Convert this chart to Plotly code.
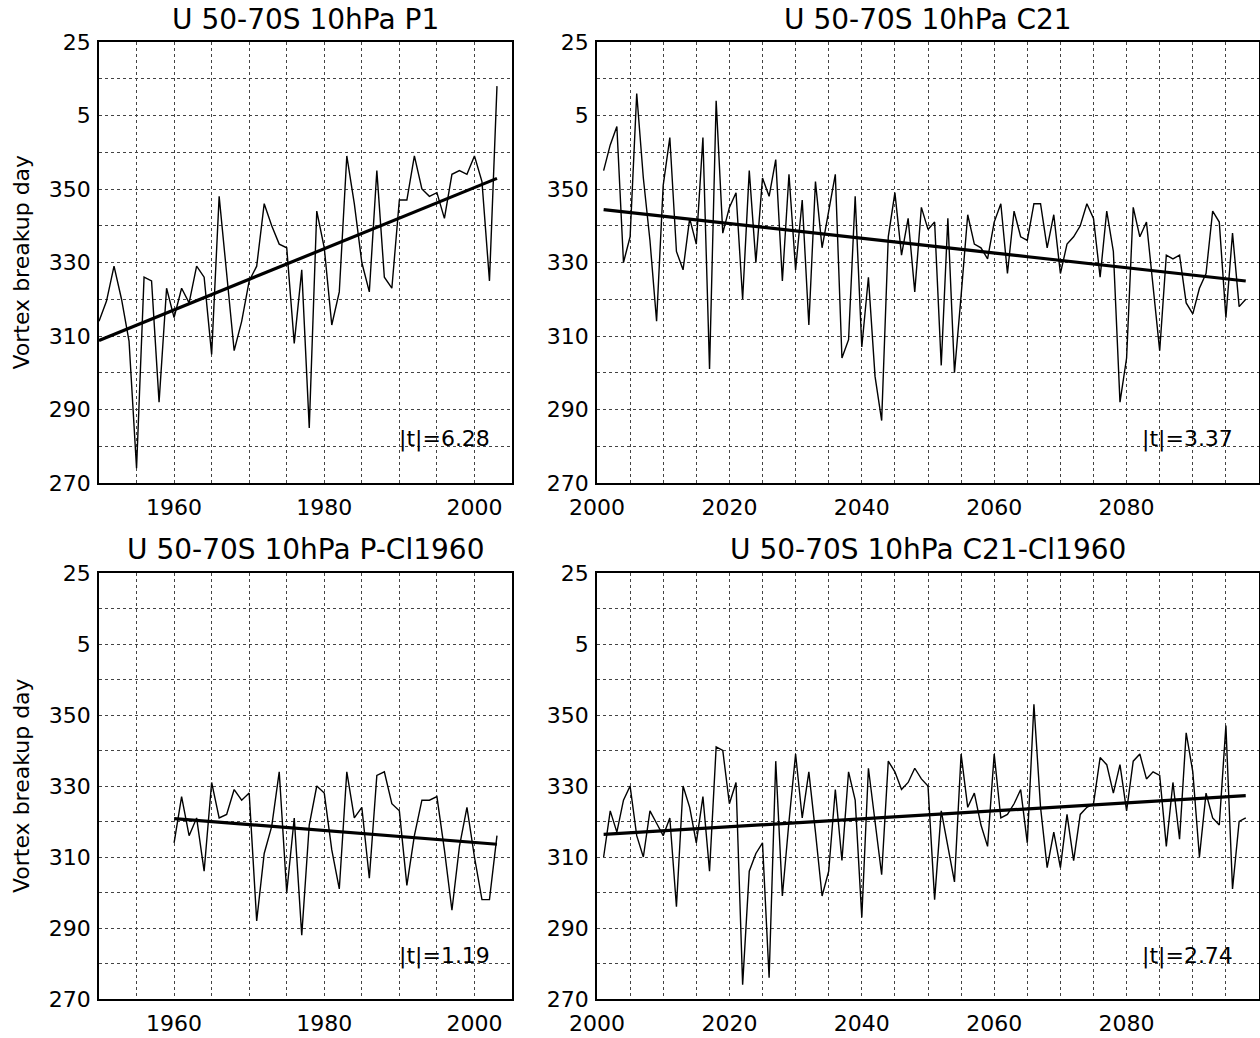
import numpy as np
import plotly.graph_objects as go

# ---------------- data ----------------
years_p1 = list(range(1950, 2004))
vals_p1 = [314, 319.5, 329, 320, 308.6, 274, 326, 325, 292, 323,
           315, 323, 319, 329, 326, 305, 348, 326, 306, 314,
           325, 329, 346, 340, 335, 334, 308, 328, 285, 344,
           334, 313, 322, 359, 346, 330, 322, 355, 326, 323,
           347, 347, 359, 350, 348, 349, 342, 354, 355, 354,
           359, 352, 325, 378]

years_c21 = list(range(2001, 2099))
vals_c21 = [355, 362, 367, 330, 337, 376, 353, 336, 314, 351,
            364, 333, 328, 342, 335, 364, 301, 374, 338, 345,
            349, 320, 355, 330, 353, 348, 358, 325, 354, 328,
            347, 313, 352, 334, 344, 354, 304, 309, 348, 307,
            326, 299, 287, 337, 349, 332, 342, 322, 345, 339,
            341, 302, 342, 300, 321, 343, 335, 334, 331, 341,
            346, 327, 344, 337, 336, 346, 346, 334, 343, 327,
            335, 337, 340, 346, 342, 326, 344, 333, 292, 304,
            345, 337, 341, 323, 306, 332, 331, 332, 319, 316,
            323, 327, 344, 341, 315, 338, 318, 320]

years_pcl = list(range(1960, 2004))
vals_pcl = [314, 327, 316, 321, 306, 331, 321, 322, 329, 326,
            328, 292, 311, 318.6, 334, 300, 321, 288, 319, 330,
            328, 312, 301, 334, 321, 324, 304, 333, 334, 325,
            323, 302, 316, 326, 326, 327, 312, 295, 313, 324,
            310, 298, 298, 316]

years_ccl = list(range(2001, 2099))
vals_ccl = [310, 323, 317, 326, 330, 316, 310, 323, 319.5, 316,
            321, 296, 330, 324, 314, 327, 306, 341, 340, 325,
            331, 274, 306, 311, 314, 276, 337, 299, 320, 339,
            321, 334, 317, 299, 306, 329, 309, 334, 326, 293,
            335, 320, 305, 337, 334, 329, 331, 335, 332, 330,
            298, 323, 313, 303, 339, 324, 328, 319, 313, 339,
            321, 322, 325, 329, 314, 353, 324, 307, 317, 307,
            322, 309, 322, 324, 325, 338, 336, 328, 336, 323,
            337, 339, 332, 334, 333, 313, 331, 315, 345, 334,
            310, 328, 321, 319, 347, 301, 320, 321]

titles = ["U 50-70S 10hPa P1", "U 50-70S 10hPa C21",
          "U 50-70S 10hPa P-Cl1960", "U 50-70S 10hPa C21-Cl1960"]
tstats = ["|t|=6.28", "|t|=3.37", "|t|=1.19", "|t|=2.74"]

y_tickvals = list(range(270, 391, 10))
y_ticktext = ["270", "", "290", "", "310", "", "330", "", "350", "", "5", "", "25"]

xl_tickvals = list(range(1950, 2006, 5))
xl_ticktext = ["" if v not in (1960, 1980, 2000) else str(v) for v in xl_tickvals]
xr_tickvals = list(range(2000, 2101, 5))
xr_ticktext = ["" if v not in (2000, 2020, 2040, 2060, 2080) else str(v) for v in xr_tickvals]

# ---------------- figure ----------------
W, H = 1260, 1038
FONT = "DejaVu Sans"
fig = go.Figure()

series = [(years_p1, vals_p1), (years_c21, vals_c21),
          (years_pcl, vals_pcl), (years_ccl, vals_ccl)]

for i, (yrs, vals) in enumerate(series):
    ax = "" if i == 0 else str(i + 1)
    fig.add_trace(go.Scatter(x=yrs, y=vals, mode="lines",
                             line=dict(color="black", width=1.4),
                             xaxis="x" + ax, yaxis="y" + ax,
                             showlegend=False, hoverinfo="skip"))
    a, b = np.polyfit(np.array(yrs, float), np.array(vals, float), 1)
    xs = [yrs[0], yrs[-1]]
    fig.add_trace(go.Scatter(x=xs, y=[a * x + b for x in xs], mode="lines",
                             line=dict(color="black", width=3.2),
                             xaxis="x" + ax, yaxis="y" + ax,
                             showlegend=False, hoverinfo="skip"))

xl_dom = [99 / W, 512 / W]
xr_dom = [597 / W, 1259 / W]
yt_dom = [1 - 483 / H, 1 - 42 / H]
yb_dom = [1 - 999 / H, 1 - 573 / H]

grid = dict(showgrid=True, gridcolor="#444444", griddash="dot", gridwidth=1,
            showline=True, linecolor="black", linewidth=1.5, mirror=True,
            ticks="", zeroline=False, automargin=False,
            tickfont=dict(family=FONT, size=22, color="black"))

def xaxis(dom, anchor, left):
    d = dict(grid)
    d.update(domain=dom, anchor=anchor,
             range=[1950, 2005] if left else [2000, 2100],
             tickmode="array",
             tickvals=xl_tickvals if left else xr_tickvals,
             ticktext=xl_ticktext if left else xr_ticktext,
             ticklabelstandoff=4)
    return d

def yaxis(dom, anchor):
    d = dict(grid)
    d.update(domain=dom, anchor=anchor, range=[270, 390],
             tickmode="array", tickvals=y_tickvals, ticktext=y_ticktext,
             ticklabelstandoff=2)
    return d

fig.update_layout(
    width=W, height=H,
    margin=dict(l=0, r=0, t=0, b=0, autoexpand=False),
    paper_bgcolor="white", plot_bgcolor="white",
    showlegend=False,
    xaxis=xaxis(xl_dom, "y", True), yaxis=yaxis(yt_dom, "x"),
    xaxis2=xaxis(xr_dom, "y2", False), yaxis2=yaxis(yt_dom, "x2"),
    xaxis3=xaxis(xl_dom, "y3", True), yaxis3=yaxis(yb_dom, "x3"),
    xaxis4=xaxis(xr_dom, "y4", False), yaxis4=yaxis(yb_dom, "x4"),
)

anns = []
title_pos = [((xl_dom[0] + xl_dom[1]) / 2, 1 - 19 / H),
             ((xr_dom[0] + xr_dom[1]) / 2, 1 - 19 / H),
             ((xl_dom[0] + xl_dom[1]) / 2, 1 - 549 / H),
             ((xr_dom[0] + xr_dom[1]) / 2, 1 - 549 / H)]
for t, (x, y) in zip(titles, title_pos):
    anns.append(dict(text=t, x=x, y=y, xref="paper", yref="paper",
                     xanchor="center", yanchor="middle", showarrow=False,
                     font=dict(family=FONT, size=28, color="black")))

for i, t in enumerate(tstats):
    ax = "" if i == 0 else str(i + 1)
    xr = 2002.3 if i in (0, 2) else 2096.3
    anns.append(dict(text=t, x=xr, y=282, xref="x" + ax, yref="y" + ax,
                     xanchor="right", yanchor="middle", showarrow=False,
                     font=dict(family=FONT, size=22, color="black")))

for dom in (yt_dom, yb_dom):
    anns.append(dict(text="Vortex breakup day", x=21 / W, y=(dom[0] + dom[1]) / 2,
                     xref="paper", yref="paper", textangle=-90,
                     xanchor="center", yanchor="middle", showarrow=False,
                     font=dict(family=FONT, size=22, color="black")))

fig.update_layout(annotations=anns)
fig.write_html("out.html", config={"displayModeBar": False},
               post_script="document.body.style.margin='0';")
